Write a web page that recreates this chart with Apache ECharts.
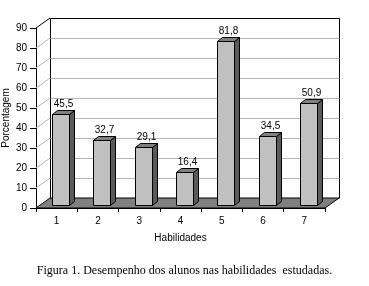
<!DOCTYPE html>
<html><head><meta charset="utf-8">
<script src="https://cdn.jsdelivr.net/npm/echarts@6/dist/echarts.min.js"></script>
<style>html,body{margin:0;padding:0;background:#fff}#c{width:369px;height:286px}</style>
</head><body><div id="c"></div>
<script>
const categories = ['1', '2', '3', '4', '5', '6', '7'];
const values = [45.5, 32.7, 29.1, 16.4, 81.8, 34.5, 50.9];
const yTicks = [0, 10, 20, 30, 40, 50, 60, 70, 80, 90];
const yAxisName = 'Porcentagem';
const xAxisName = 'Habilidades';
const caption = 'Figura 1. Desempenho dos alunos nas habilidades  estudadas.';

const DX = 14, DY = -10; // wall depth
const SANS = 'Liberation Sans, Arial, sans-serif';
const r = v => Math.round(v) + 0.5;

const chart = echarts.init(document.getElementById('c'), null, {renderer: 'canvas'});
chart.setOption({
  animation: false,
  backgroundColor: '#fff',
  title: {
    text: caption, left: 'center', top: 260,
    textStyle: {fontFamily: 'Liberation Serif, Times New Roman, serif', fontSize: 12, fontWeight: 'normal', color: '#000'}
  },
  grid: {left: 36, right: 44, top: 28, bottom: 78, containLabel: false, outerBoundsMode: 'none'},
  xAxis: {
    type: 'category', data: categories, boundaryGap: true,
    name: xAxisName, nameLocation: 'middle', nameGap: 25, nameMoveOverlap: false,
    nameTextStyle: {fontFamily: SANS, fontSize: 10, color: '#000'},
    axisLine: {lineStyle: {color: '#000', width: 1}},
    axisTick: {show: true, length: 4, lineStyle: {color: '#000'}},
    axisLabel: {fontFamily: SANS, fontSize: 10, color: '#000', margin: 8},
    splitLine: {show: false}
  },
  yAxis: {
    type: 'value', min: 0, max: 90, interval: 10,
    name: yAxisName, nameLocation: 'middle', nameGap: 25, nameMoveOverlap: false,
    nameTextStyle: {fontFamily: SANS, fontSize: 10, color: '#000'},
    axisLine: {show: true, lineStyle: {color: '#000', width: 1}},
    axisTick: {show: true, length: 6, lineStyle: {color: '#000'}},
    axisLabel: {fontFamily: SANS, fontSize: 10, color: '#000', margin: 9},
    splitLine: {show: false}
  },
  series: [
    {
      type: 'custom', z: 1, silent: true,
      data: yTicks.map(v => [0, v]),
      renderItem: function (params, api) {
        const cs = params.coordSys;
        const v = api.value(1);
        const y = api.coord([0, v])[1];
        const x0 = cs.x, x1 = cs.x + cs.width;
        const children = [];
        const isTop = v === yTicks[yTicks.length - 1];
        const col = isTop ? '#000' : '#b4b4b4';
        if (v === 0) {
          const yb = cs.y + cs.height;
          const yt = cs.y;
          children.push({type: 'polygon', shape: {points: [[x0, yb], [x1, yb], [x1 + DX, yb + DY], [x0 + DX, yb + DY]]},
            style: {fill: '#808080', stroke: '#000', lineWidth: 1}});
          children.push({type: 'line', shape: {x1: r(x0 + DX), y1: r(yt + DY), x2: r(x0 + DX), y2: r(yb + DY)}, style: {stroke: '#000', lineWidth: 1}});
          children.push({type: 'line', shape: {x1: r(x1 + DX), y1: r(yt + DY), x2: r(x1 + DX), y2: r(yb + DY)}, style: {stroke: '#000', lineWidth: 1}});
        } else {
          children.push({type: 'line', shape: {x1: x0, y1: y, x2: x0 + DX, y2: y + DY}, style: {stroke: col, lineWidth: 1}});
          children.push({type: 'line', shape: {x1: r(x0 + DX), y1: r(y + DY), x2: r(x1 + DX), y2: r(y + DY)}, style: {stroke: col, lineWidth: 1}});
        }
        return {type: 'group', children: children};
      }
    },
    {
      type: 'custom', z: 3, silent: true,
      data: values.map((v, i) => [i, v]),
      renderItem: function (params, api) {
        const i = api.value(0), v = api.value(1);
        const top = api.coord([i, v]);
        const base = api.coord([i, 0]);
        const bw = 17;
        const ox = 4, oy = -3, dx = 5, dy = -4;
        const xl = Math.round(top[0] - bw / 2 + ox) + 0.5;
        const xr = xl + bw;
        const yt = Math.round(top[1] + oy) + 0.5;
        const yb = Math.round(base[1] + oy) + 0.5;
        const label = v.toFixed(1).replace('.', ',');
        return {
          type: 'group',
          children: [
            {type: 'polygon', shape: {points: [[xr, yt], [xr + dx, yt + dy], [xr + dx, yb + dy], [xr, yb]]},
              style: {fill: '#5a5a5a', stroke: '#000', lineWidth: 1}},
            {type: 'polygon', shape: {points: [[xl, yt], [xr, yt], [xr + dx, yt + dy], [xl + dx, yt + dy]]},
              style: {fill: '#808080', stroke: '#000', lineWidth: 1}},
            {type: 'rect', shape: {x: xl, y: yt, width: bw, height: yb - yt},
              style: {fill: '#c0c0c0', stroke: '#000', lineWidth: 1}},
            {type: 'text', x: (xl + xr + dx) / 2, y: yt + dy - 1,
              style: {text: label, textAlign: 'center', textVerticalAlign: 'bottom',
                font: '10px Liberation Sans, Arial, sans-serif', fill: '#000'}}
          ]
        };
      }
    }
  ]
});
</script>
</body></html>
